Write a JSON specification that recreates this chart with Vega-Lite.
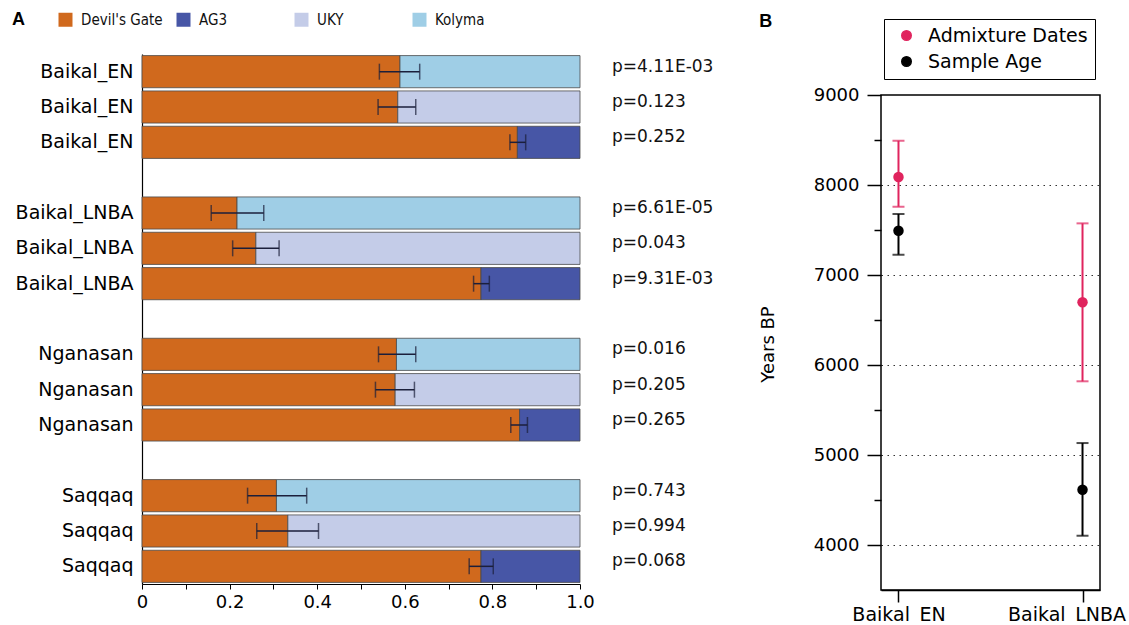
{
  "$schema": "https://vega.github.io/schema/vega-lite/v6.json",
  "background": "white",
  "padding": {"left": 12, "top": 12, "right": 5, "bottom": 0},
  "spacing": 45,
  "resolve": {"scale": {"color": "independent"}, "legend": {"color": "independent"}},
  "config": {
    "view": {"stroke": null},
    "font": "DejaVu Sans",
    "axis": {"domainColor": "#000", "tickColor": "#000", "labelColor": "#000", "titleColor": "#000"}
  },
  "hconcat": [
    {
      "width": 438,
      "height": 530,
      "data": {"values": [
        {"row": "Baikal_EN|1", "dg": 0.589, "comp": "Kolyma", "lo": 0.542, "hi": 0.634, "p": "p=4.11E-03"},
        {"row": "Baikal_EN|2", "dg": 0.584, "comp": "UKY", "lo": 0.539, "hi": 0.625, "p": "p=0.123"},
        {"row": "Baikal_EN|3", "dg": 0.857, "comp": "AG3", "lo": 0.840, "hi": 0.876, "p": "p=0.252"},
        {"row": "Baikal_LNBA|1", "dg": 0.217, "comp": "Kolyma", "lo": 0.158, "hi": 0.278, "p": "p=6.61E-05"},
        {"row": "Baikal_LNBA|2", "dg": 0.260, "comp": "UKY", "lo": 0.207, "hi": 0.313, "p": "p=0.043"},
        {"row": "Baikal_LNBA|3", "dg": 0.774, "comp": "AG3", "lo": 0.757, "hi": 0.793, "p": "p=9.31E-03"},
        {"row": "Nganasan|1", "dg": 0.581, "comp": "Kolyma", "lo": 0.540, "hi": 0.625, "p": "p=0.016"},
        {"row": "Nganasan|2", "dg": 0.578, "comp": "UKY", "lo": 0.533, "hi": 0.622, "p": "p=0.205"},
        {"row": "Nganasan|3", "dg": 0.862, "comp": "AG3", "lo": 0.842, "hi": 0.880, "p": "p=0.265"},
        {"row": "Saqqaq|1", "dg": 0.307, "comp": "Kolyma", "lo": 0.241, "hi": 0.376, "p": "p=0.743"},
        {"row": "Saqqaq|2", "dg": 0.333, "comp": "UKY", "lo": 0.262, "hi": 0.403, "p": "p=0.994"},
        {"row": "Saqqaq|3", "dg": 0.774, "comp": "AG3", "lo": 0.747, "hi": 0.802, "p": "p=0.068"}
      ]},
      "encoding": {
        "y": {
          "field": "row", "type": "nominal",
          "scale": {
            "domain": ["Baikal_EN|1", "Baikal_EN|2", "Baikal_EN|3", "gap1",
                       "Baikal_LNBA|1", "Baikal_LNBA|2", "Baikal_LNBA|3", "gap2",
                       "Nganasan|1", "Nganasan|2", "Nganasan|3", "gap3",
                       "Saqqaq|1", "Saqqaq|2", "Saqqaq|3"],
            "paddingInner": 0.09, "paddingOuter": 0.045
          },
          "axis": {
            "title": null, "ticks": false,
            "labelExpr": "indexof(datum.value, '|') > 0 ? split(datum.value, '|')[0] : ''",
            "labelFontSize": 19, "labelFont": "DejaVu Sans", "labelPadding": 9,
            "domainWidth": 1.2, "labelLimit": 300
          }
        }
      },
      "layer": [
        {
          "mark": {"type": "bar", "stroke": "#4a4a4a", "strokeWidth": 0.8},
          "encoding": {
            "x": {
              "field": "dg", "type": "quantitative",
              "scale": {"domain": [0, 1], "nice": false},
              "axis": {
                "title": null,
                "values": [0, 0.1, 0.2, 0.3, 0.4, 0.5, 0.6, 0.7, 0.8, 0.9, 1.0],
                "labelExpr": "(round(datum.value * 10) % 2 == 0) ? (datum.value == 0 ? '0' : format(datum.value, '.1f')) : ''",
                "tickSize": 5, "labelFontSize": 18, "labelFont": "DejaVu Sans",
                "labelPadding": 4, "grid": false, "domainWidth": 1.2,
                "labelFlush": false, "labelOverlap": false
              }
            },
            "color": {
              "datum": "Devil's Gate", "type": "nominal",
              "scale": {
                "domain": ["Devil's Gate", "AG3", "UKY", "Kolyma"],
                "range": ["#d0691d", "#4756a6", "#c4cce8", "#9fcee6"]
              },
              "legend": {
                "title": "A", "titleOrient": "left", "titleFontSize": 18,
                "titleFontWeight": "bold", "titleFont": "Liberation Sans", "titlePadding": 33,
                "titleColor": "#000",
                "orient": "none", "legendX": -130, "legendY": -42,
                "direction": "horizontal", "columns": 4, "gridAlign": "all", "columnPadding": 13,
                "symbolType": "square", "symbolSize": 196, "symbolStrokeWidth": 0,
                "labelFont": "DejaVu Sans Condensed, Liberation Sans, sans-serif", "labelFontSize": 15, "labelOffset": 8,
                "labelColor": "#111"
              }
            }
          }
        },
        {
          "mark": {"type": "bar", "stroke": "#4a4a4a", "strokeWidth": 0.8},
          "encoding": {
            "x": {"field": "dg", "type": "quantitative"},
            "x2": {"datum": 1},
            "color": {"field": "comp", "type": "nominal"}
          }
        },
        {
          "mark": {"type": "rule", "color": "#1b1f3b", "strokeWidth": 1.5},
          "encoding": {
            "x": {"field": "lo", "type": "quantitative"},
            "x2": {"field": "hi"}
          }
        },
        {
          "mark": {"type": "tick", "color": "#1b1f3b", "thickness": 1.5, "size": 16},
          "encoding": {"x": {"field": "lo", "type": "quantitative"}}
        },
        {
          "mark": {"type": "tick", "color": "#1b1f3b", "thickness": 1.5, "size": 16},
          "encoding": {"x": {"field": "hi", "type": "quantitative"}}
        },
        {
          "mark": {"type": "text", "align": "left", "baseline": "middle", "dx": 32, "dy": -5,
                   "fontSize": 17, "font": "DejaVu Sans", "color": "#111"},
          "encoding": {
            "x": {"datum": 1, "type": "quantitative"},
            "text": {"field": "p"}
          }
        }
      ]
    },
    {
      "width": 219,
      "height": 536,
      "title": {"text": "B", "anchor": "start", "frame": "bounds", "fontSize": 18,
                "font": "Liberation Sans", "fontWeight": "bold", "offset": -12, "color": "#000"},
      "data": {"values": [
        {"pop": "Baikal_EN", "type": "Admixture Dates", "val": 8090, "lo": 7759, "hi": 8492},
        {"pop": "Baikal_EN", "type": "Sample Age", "val": 7492, "lo": 7226, "hi": 7678},
        {"pop": "Baikal_LNBA", "type": "Admixture Dates", "val": 6697, "lo": 5819, "hi": 7574},
        {"pop": "Baikal_LNBA", "type": "Sample Age", "val": 4614, "lo": 4103, "hi": 5133}
      ]},
      "layer": [
        {
          "transform": [{"filter": "datum.pop == 'Baikal_EN' && datum.type == 'Sample Age'"}],
          "mark": {"type": "rect", "filled": false, "color": "#000", "strokeWidth": 1.5},
          "encoding": {
            "y": {
              "datum": 3500, "type": "quantitative",
              "scale": {"domain": [3500, 9456], "nice": false, "zero": false},
              "axis": {
                "title": "Years BP", "titleFontSize": 18, "titleFontWeight": "normal",
                "titleFont": "DejaVu Sans", "titlePadding": 36, "titleY": 290,
                "values": [4000, 4500, 5000, 5500, 6000, 6500, 7000, 7500, 8000, 8500, 9000],
                "labelExpr": "datum.value % 1000 == 0 ? format(datum.value, 'd') : ''",
                "tickSize": {"condition": {"test": "datum.value % 1000 == 0", "value": 14}, "value": 7},
                "tickWidth": 1.5, "labelFontSize": 18, "labelFont": "DejaVu Sans", "labelPadding": 8,
                "grid": true, "gridDash": [1.5, 4.5], "gridColor": "#333", "gridWidth": 1.2,
                "gridOpacity": {"condition": {"test": "datum.value % 1000 == 0 && datum.value < 9000", "value": 1}, "value": 0},
                "domain": false, "labelOverlap": false
              }
            },
            "y2": {"datum": 9000}
          }
        },
        {
          "mark": {"type": "point", "filled": true, "size": 110, "opacity": 1},
          "encoding": {
            "x": {
              "field": "pop", "type": "nominal",
              "scale": {"type": "point", "domain": ["Baikal_EN", "Baikal_LNBA"], "padding": 0.095},
              "axis": {"title": null, "labelAngle": 0, "tickSize": 12, "tickWidth": 1.5,
                       "labelFontSize": 19, "labelFont": "DejaVu Sans", "labelPadding": 3, "domainWidth": 1.5,
                       "labelOffset": {"condition": {"test": "datum.value == 'Baikal_LNBA'", "value": -16}, "value": 0}}
            },
            "y": {"field": "val", "type": "quantitative"},
            "color": {
              "field": "type", "type": "nominal",
              "scale": {"domain": ["Admixture Dates", "Sample Age"], "range": ["#e0245e", "#000000"]},
              "legend": {
                "title": null, "orient": "none", "legendX": 3, "legendY": -35,
                "symbolType": "circle", "symbolSize": 90, "labelFontSize": 19, "labelFont": "DejaVu Sans",
                "padding": 7, "symbolOffset": 6, "labelOffset": 12, "rowPadding": 6,
                "strokeColor": "#000", "fillColor": "#fff", "labelColor": "#000"
              }
            }
          }
        },
        {
          "mark": {"type": "rule", "strokeWidth": 2},
          "encoding": {
            "x": {"field": "pop", "type": "nominal"},
            "y": {"field": "lo", "type": "quantitative"},
            "y2": {"field": "hi"},
            "color": {"field": "type", "type": "nominal"}
          }
        },
        {
          "mark": {"type": "tick", "thickness": 2, "size": 12},
          "encoding": {
            "x": {"field": "pop", "type": "nominal"},
            "y": {"field": "lo", "type": "quantitative"},
            "color": {"field": "type", "type": "nominal"}
          }
        },
        {
          "mark": {"type": "tick", "thickness": 2, "size": 12},
          "encoding": {
            "x": {"field": "pop", "type": "nominal"},
            "y": {"field": "hi", "type": "quantitative"},
            "color": {"field": "type", "type": "nominal"}
          }
        }
      ]
    }
  ]
}
